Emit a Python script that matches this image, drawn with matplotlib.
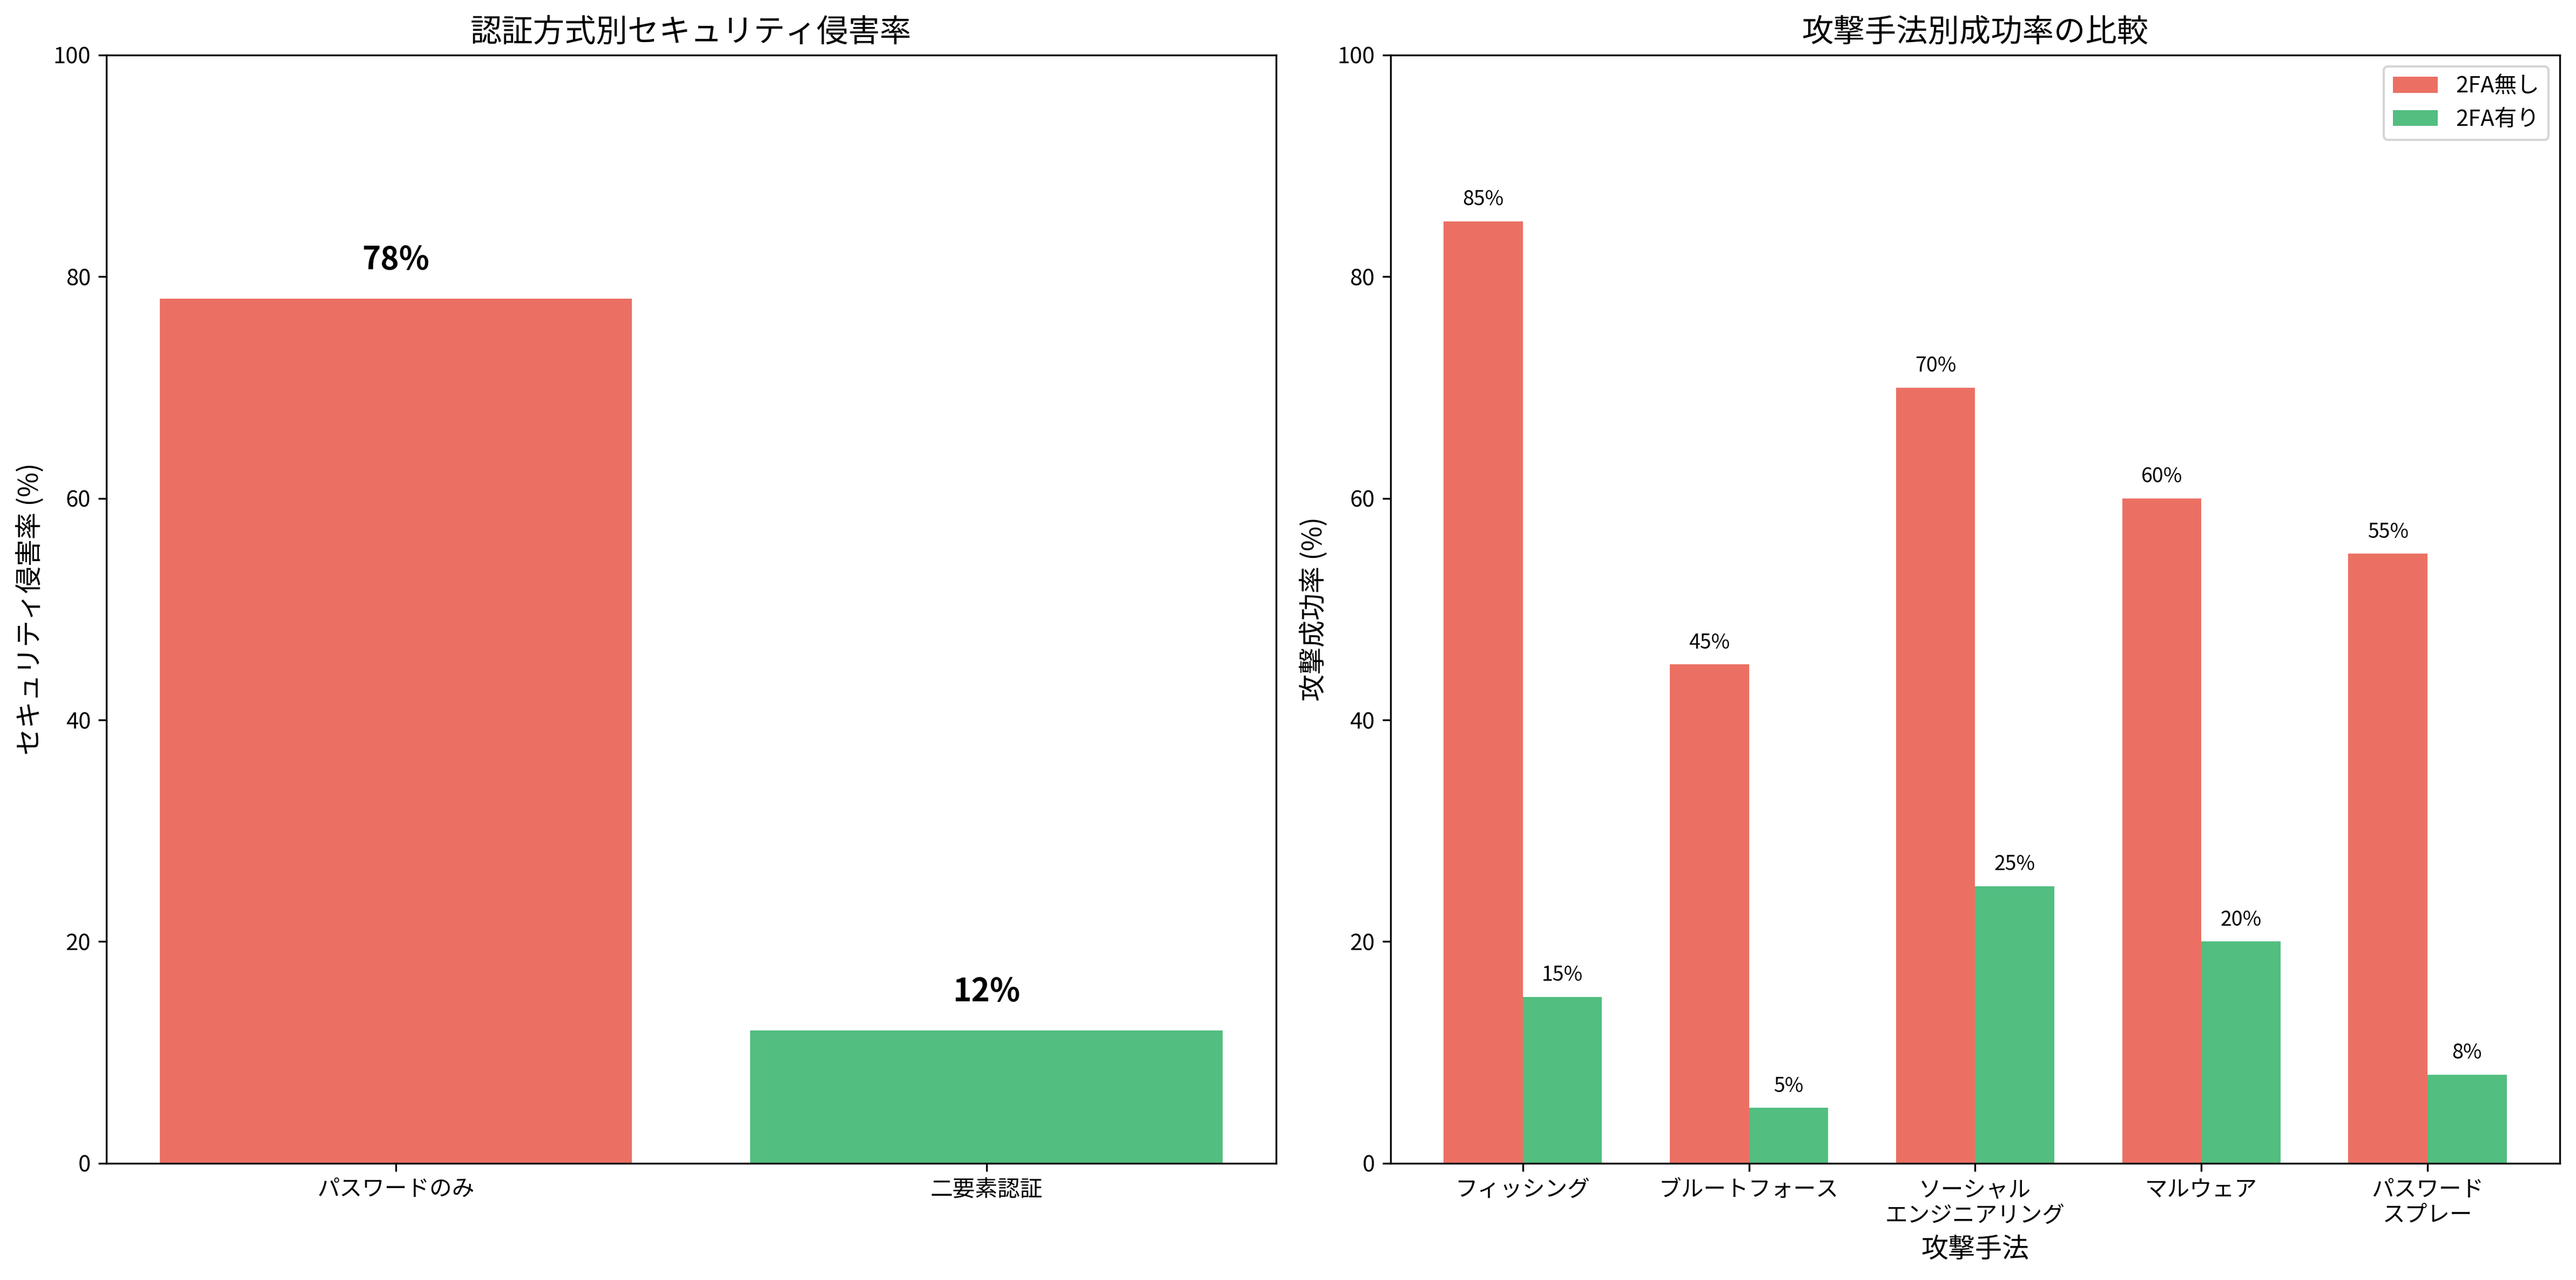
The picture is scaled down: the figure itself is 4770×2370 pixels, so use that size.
import matplotlib
matplotlib.use("Agg")
import matplotlib.pyplot as plt
import numpy as np

plt.rcParams['font.family'] = ['Noto Sans CJK JP', 'DejaVu Sans']

auth_methods = ['パスワードのみ', '二要素認証']
breach_rates = [78, 12]

attacks = ['フィッシング', 'ブルートフォース', 'ソーシャル\nエンジニアリング', 'マルウェア', 'パスワード\nスプレー']
no_2fa = [85, 45, 70, 60, 55]
with_2fa = [15, 5, 25, 20, 8]

red = '#e74c3c'
green = '#27ae60'

fig, (ax1, ax2) = plt.subplots(1, 2, figsize=(16, 8), dpi=300)

bars = ax1.bar(auth_methods, breach_rates, color=[red, green], alpha=0.8)
for b, v in zip(bars, breach_rates):
    ax1.text(b.get_x() + b.get_width() / 2, v + 2, f'{v}%', ha='center', va='bottom',
             fontsize=14, fontweight='bold')
ax1.set_ylim(0, 100)
ax1.set_ylabel('セキュリティ侵害率 (%)', fontsize=12)
ax1.set_title('認証方式別セキュリティ侵害率', fontsize=14)

x = np.arange(len(attacks))
w = 0.35
b1 = ax2.bar(x - w / 2, no_2fa, w, color=red, alpha=0.8, label='2FA無し')
b2 = ax2.bar(x + w / 2, with_2fa, w, color=green, alpha=0.8, label='2FA有り')
for bs, vals in ((b1, no_2fa), (b2, with_2fa)):
    for b, v in zip(bs, vals):
        ax2.text(b.get_x() + b.get_width() / 2, v + 1, f'{v}%', ha='center', va='bottom', fontsize=9)
ax2.set_xticks(x)
ax2.set_xticklabels(attacks)
ax2.set_ylim(0, 100)
ax2.set_xlabel('攻撃手法', fontsize=12)
ax2.set_ylabel('攻撃成功率 (%)', fontsize=12)
ax2.set_title('攻撃手法別成功率の比較', fontsize=14)
ax2.legend(loc='upper right')

plt.tight_layout()
plt.savefig('out.png', dpi=300, bbox_inches='tight')
